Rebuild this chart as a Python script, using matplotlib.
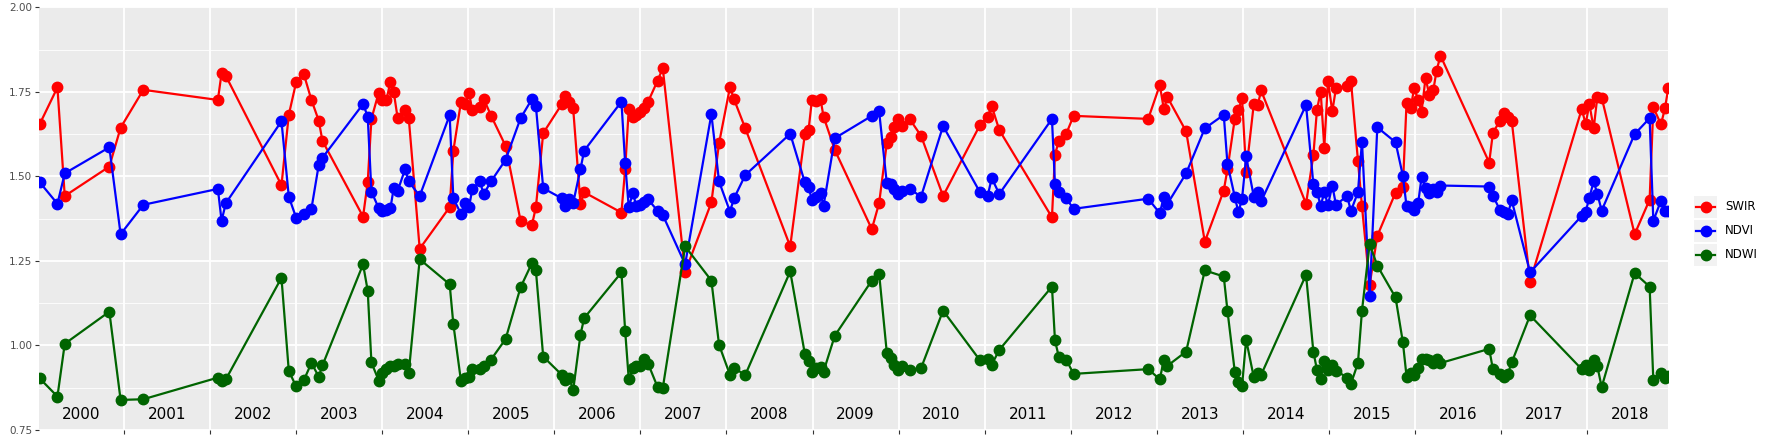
import matplotlib
matplotlib.use("Agg")
import matplotlib.pyplot as plt
from matplotlib.patches import Rectangle
from matplotlib.lines import Line2D

years = [2000.02,2000.227,2000.312,2000.83,2000.961,2001.225,2002.091,2002.134,2002.184,2002.83,
 2002.915,2003.0,2003.089,2003.178,2003.263,2003.306,2003.778,2003.832,2003.875,2003.96,
 2004.002,2004.049,2004.096,2004.134,2004.18,2004.266,2004.309,2004.436,2004.784,2004.827,
 2004.916,2004.962,2005.009,2005.047,2005.136,2005.179,2005.264,2005.434,2005.608,2005.739,
 2005.786,2005.871,2006.088,2006.13,2006.176,2006.219,2006.304,2006.347,2006.78,2006.823,
 2006.865,2006.912,2006.954,2007.0,2007.044,2007.09,2007.2,2007.26,2007.52,2007.825,
 2007.914,2008.041,2008.088,2008.219,2008.741,2008.911,2008.954,2008.993,2009.039,2009.093,
 2009.128,2009.259,2009.689,2009.774,2009.863,2009.909,2009.952,2009.998,2010.045,2010.13,
 2010.261,2010.517,2010.946,2011.035,2011.082,2011.17,2011.782,2011.817,2011.863,2011.948,
 2012.033,2012.9,2013.035,2013.082,2013.124,2013.341,2013.558,2013.778,2013.821,2013.906,
 2013.948,2013.991,2014.038,2014.127,2014.173,2014.212,2014.734,2014.819,2014.861,2014.904,
 2014.946,2014.989,2015.039,2015.082,2015.21,2015.256,2015.337,2015.384,2015.473,2015.562,
 2015.774,2015.859,2015.902,2015.948,2015.991,2016.037,2016.076,2016.123,2016.165,2016.212,
 2016.251,2016.296,2016.862,2016.905,2016.986,2017.032,2017.078,2017.124,2017.337,2017.937,
 2017.983,2018.026,2018.076,2018.119,2018.169,2018.552,2018.726,2018.769,2018.858,2018.904,
 2018.943]

swir = [1.654,1.763,1.442,1.529,1.644,1.756,1.726,1.805,1.797,1.474,
 1.682,1.778,1.803,1.726,1.665,1.605,1.381,1.483,1.670,1.748,
 1.726,1.726,1.780,1.750,1.672,1.695,1.672,1.286,1.409,1.576,
 1.721,1.714,1.748,1.695,1.706,1.730,1.680,1.590,1.369,1.355,
 1.409,1.628,1.714,1.739,1.721,1.701,1.419,1.453,1.393,1.521,
 1.699,1.677,1.682,1.691,1.701,1.721,1.783,1.820,1.217,1.423,
 1.598,1.764,1.728,1.642,1.293,1.625,1.637,1.726,1.724,1.728,
 1.677,1.578,1.344,1.421,1.598,1.616,1.645,1.670,1.649,1.669,
 1.620,1.442,1.652,1.677,1.708,1.637,1.379,1.564,1.606,1.626,
 1.679,1.670,1.770,1.699,1.734,1.633,1.307,1.458,1.521,1.670,
 1.697,1.731,1.513,1.714,1.711,1.754,1.419,1.562,1.697,1.751,
 1.585,1.783,1.692,1.761,1.766,1.782,1.546,1.411,1.179,1.324,
 1.452,1.470,1.718,1.701,1.761,1.726,1.691,1.792,1.741,1.754,
 1.813,1.857,1.541,1.628,1.665,1.687,1.677,1.664,1.189,1.699,
 1.655,1.714,1.642,1.736,1.733,1.329,1.431,1.704,1.654,1.701,
 1.761]

ndvi = [1.483,1.419,1.509,1.586,1.329,1.416,1.463,1.369,1.421,1.663,
 1.440,1.378,1.390,1.404,1.534,1.555,1.714,1.677,1.455,1.406,
 1.398,1.401,1.406,1.465,1.457,1.521,1.485,1.442,1.681,1.435,
 1.389,1.421,1.409,1.462,1.485,1.447,1.485,1.549,1.672,1.728,
 1.708,1.465,1.435,1.413,1.432,1.421,1.522,1.576,1.721,1.539,
 1.409,1.450,1.413,1.416,1.423,1.432,1.398,1.386,1.240,1.684,
 1.485,1.396,1.435,1.504,1.626,1.482,1.468,1.431,1.438,1.450,
 1.413,1.613,1.679,1.692,1.480,1.478,1.462,1.448,1.458,1.463,
 1.440,1.649,1.453,1.442,1.495,1.448,1.670,1.477,1.453,1.435,
 1.404,1.434,1.391,1.440,1.419,1.509,1.642,1.682,1.537,1.440,
 1.394,1.434,1.559,1.440,1.455,1.426,1.711,1.477,1.455,1.413,
 1.453,1.416,1.473,1.416,1.442,1.398,1.453,1.603,1.147,1.645,
 1.601,1.502,1.411,1.409,1.401,1.421,1.497,1.467,1.450,1.462,
 1.455,1.473,1.470,1.443,1.401,1.394,1.389,1.429,1.216,1.383,
 1.396,1.437,1.485,1.448,1.399,1.625,1.672,1.369,1.428,1.399,
 1.399]

ndwi = [0.903,0.849,1.005,1.100,0.839,0.841,0.905,0.894,0.900,1.200,
 0.925,0.879,0.897,0.948,0.908,0.941,1.240,1.162,0.950,0.896,
 0.918,0.930,0.938,0.940,0.944,0.944,0.920,1.255,1.181,1.063,
 0.894,0.903,0.908,0.930,0.930,0.940,0.958,1.019,1.172,1.243,
 1.222,0.967,0.913,0.898,0.903,0.867,1.032,1.081,1.216,1.044,
 0.900,0.933,0.940,0.938,0.960,0.946,0.877,0.874,1.293,1.192,
 1.002,0.913,0.933,0.913,1.219,0.975,0.953,0.923,0.933,0.935,
 0.923,1.029,1.192,1.212,0.979,0.963,0.941,0.928,0.940,0.928,
 0.933,1.103,0.956,0.960,0.943,0.987,1.174,1.015,0.965,0.958,
 0.916,0.930,0.900,0.958,0.940,0.982,1.222,1.204,1.103,0.923,
 0.891,0.881,1.017,0.906,0.920,0.913,1.209,0.982,0.928,0.902,
 0.953,0.928,0.943,0.926,0.905,0.887,0.948,1.103,1.300,1.236,
 1.142,1.010,0.908,0.918,0.913,0.933,0.960,0.960,0.958,0.948,
 0.960,0.948,0.990,0.930,0.916,0.906,0.916,0.950,1.089,0.930,
 0.943,0.928,0.958,0.938,0.877,1.214,1.174,0.897,0.920,0.903,
 0.910]

series = [("SWIR", swir, "#FF0000"), ("NDVI", ndvi, "#0000FF"), ("NDWI", ndwi, "#006400")]
year_labels = list(range(2000, 2019))

W, H = 1773, 442
fig = plt.figure(figsize=(W / 100, H / 100), dpi=100)
ax = fig.add_axes([0.0222, 0.0271, 0.9186, 0.9564])
ax.set_facecolor("#EBEBEB")
for name, vals, col in series:
    ax.plot(years, vals, color=col, lw=1.6, marker="o", ms=7.5, label=name)

ax.set_xlim(2000.017, 2018.94)
ax.set_ylim(0.75, 2.0)
ax.set_yticks([0.75, 1.0, 1.25, 1.5, 1.75, 2.0])
ax.set_yticklabels(["0.75", "1.00", "1.25", "1.50", "1.75", "2.00"])
ax.set_yticks([0.875, 1.125, 1.375, 1.625, 1.875], minor=True)
ax.set_xticks(list(range(2001, 2019)))
ax.set_xticklabels([])
ax.grid(which="major", axis="both", color="white", lw=1.3)
ax.grid(which="minor", axis="y", color="white", lw=0.6)
ax.set_axisbelow(True)
ax.tick_params(axis="both", which="major", length=3, color="#333333", labelsize=7.5, labelcolor="#4D4D4D", pad=2)
ax.tick_params(axis="y", which="minor", length=0)
for s in ax.spines.values():
    s.set_visible(False)
for y in year_labels:
    ax.text(y + 0.5, 0.797, str(y), ha="center", va="center", fontsize=11, color="black")

# ggplot-style legend with grey key boxes
centers = [207, 231, 255]
for (name, vals, col), cy in zip(series, centers):
    fy = 1 - cy / H
    fig.patches.append(Rectangle((1694 / W, fy - 11 / H), 23 / W, 22 / H, transform=fig.transFigure,
                                 facecolor="#F2F2F2", edgecolor="none"))
    fig.lines.append(Line2D([1696 / W, 1715 / W], [fy, fy], transform=fig.transFigure, color=col, lw=1.6))
    fig.lines.append(Line2D([1705.5 / W], [fy], transform=fig.transFigure, color=col, marker="o", ms=7.5))
    fig.text(1725 / W, fy, name, ha="left", va="center", fontsize=8.5, color="black")

plt.savefig("out.png", dpi=100)
